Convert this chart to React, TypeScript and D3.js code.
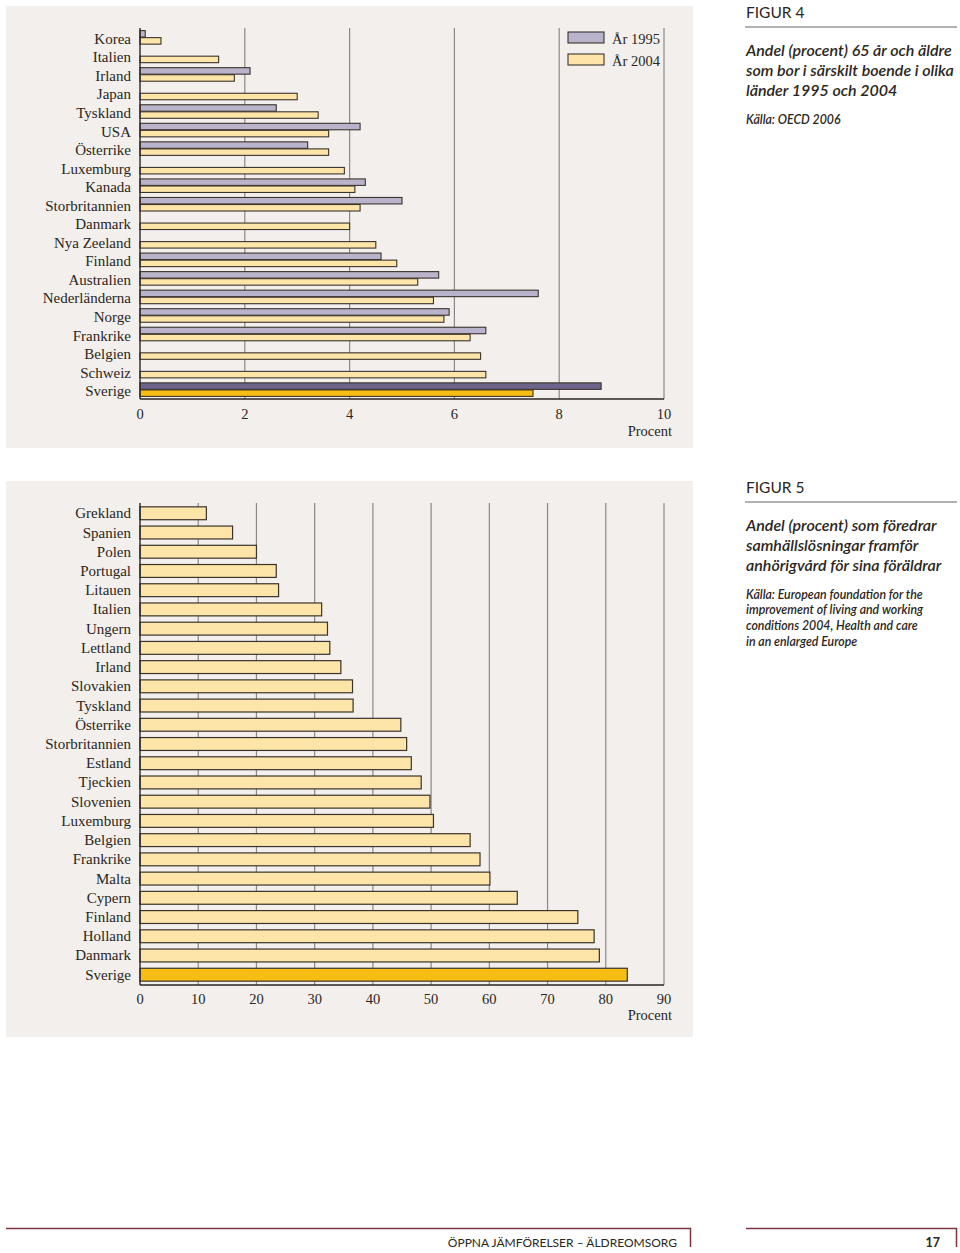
import React from 'react';
import * as d3 from 'd3';

// Figur 4: andel 65+ i särskilt boende
const countries4 = [
  'Korea', 'Italien', 'Irland', 'Japan', 'Tyskland', 'USA', 'Österrike', 'Luxemburg',
  'Kanada', 'Storbritannien', 'Danmark', 'Nya Zeeland', 'Finland', 'Australien',
  'Nederländerna', 'Norge', 'Frankrike', 'Belgien', 'Schweiz', 'Sverige',
];
const values1995 = [0.1, null, 2.1, null, 2.6, 4.2, 3.2, null, 4.3, 5.0, null, null, 4.6, 5.7, 7.6, 5.9, 6.6, null, null, 8.8];
const values2004 = [0.4, 1.5, 1.8, 3.0, 3.4, 3.6, 3.6, 3.9, 4.1, 4.2, 4.0, 4.5, 4.9, 5.3, 5.6, 5.8, 6.3, 6.5, 6.6, 7.5];
const ticks4 = [0, 2, 4, 6, 8, 10];
const series4 = ['År 1995', 'År 2004'];

// Figur 5: föredrar samhällslösningar
const countries5 = [
  'Grekland', 'Spanien', 'Polen', 'Portugal', 'Litauen', 'Italien', 'Ungern', 'Lettland',
  'Irland', 'Slovakien', 'Tyskland', 'Österrike', 'Storbritannien', 'Estland', 'Tjeckien',
  'Slovenien', 'Luxemburg', 'Belgien', 'Frankrike', 'Malta', 'Cypern', 'Finland',
  'Holland', 'Danmark', 'Sverige',
];
const values5 = [11.4, 15.9, 20.0, 23.4, 23.8, 31.2, 32.2, 32.6, 34.5, 36.5, 36.6, 44.8, 45.8, 46.6, 48.3, 49.8, 50.4, 56.7, 58.4, 60.1, 64.8, 75.2, 78.0, 78.9, 83.7];
const ticks5 = [0, 10, 20, 30, 40, 50, 60, 70, 80, 90];

const serif = '"Liberation Serif", "DejaVu Serif", serif';
const sans = 'Lato, "Open Sans", sans-serif';
const panelBg = '#f2efec';
const ink = '#2a2622';
const barStroke = '#3b332c';
const gridCol = '#8c8884';
const col1995 = '#b9b4cb';
const col2004 = '#fde4a8';
const sve1995 = '#6c648a';
const sve2004 = '#f8bd12';

function Figur4() {
  const x = d3.scaleLinear().domain([0, 10]).range([140, 664]);
  const y = d3.scaleBand<string>().domain(countries4).range([28, 399]).paddingInner(0.27).paddingOuter(0.14);
  const sub = d3.scaleBand<string>().domain(series4).range([0, y.bandwidth()]).paddingInner(0.08);
  const rows = countries4.map((c, i) => ({ c, v: [values1995[i], values2004[i]] }));
  return (
    <g>
      <rect x={6} y={6} width={687} height={442} fill={panelBg} />
      {ticks4.slice(1).map(t => (
        <line key={t} x1={x(t)} x2={x(t)} y1={28} y2={399} stroke={gridCol} strokeWidth={1.2} />
      ))}
      {rows.map(r => (
        <g key={r.c}>
          <text x={131} y={(y(r.c) ?? 0) + y.bandwidth() / 2 + 1.5} textAnchor="end" dominantBaseline="central"
            fontFamily={serif} fontSize={15} fill={ink}>{r.c}</text>
          {series4.map((s, j) => {
            const v = r.v[j];
            if (v == null) return null;
            const sv = r.c === 'Sverige';
            const fill = j === 0 ? (sv ? sve1995 : col1995) : (sv ? sve2004 : col2004);
            return (
              <rect key={s} x={x(0)} y={(y(r.c) ?? 0) + (sub(s) ?? 0)} width={x(v) - x(0)} height={sub.bandwidth()}
                fill={fill} stroke={barStroke} strokeWidth={1.1} />
            );
          })}
        </g>
      ))}
      <line x1={140} x2={140} y1={28} y2={399} stroke={ink} strokeWidth={1.4} />
      <line x1={140} x2={664} y1={399} y2={399} stroke={ink} strokeWidth={1.4} />
      {ticks4.map(t => (
        <text key={t} x={x(t)} y={414} textAnchor="middle" dominantBaseline="central"
          fontFamily={serif} fontSize={14.5} fill={ink}>{t}</text>
      ))}
      <text x={672} y={431} textAnchor="end" dominantBaseline="central" fontFamily={serif} fontSize={14.5} fill={ink}>Procent</text>
      {series4.map((s, j) => (
        <g key={s}>
          <rect x={568} y={32 + j * 22} width={36} height={11} fill={j === 0 ? col1995 : col2004} stroke={barStroke} strokeWidth={1.1} />
          <text x={612} y={39 + j * 22} dominantBaseline="central" fontFamily={serif} fontSize={14.5} fill={ink}>{s}</text>
        </g>
      ))}
    </g>
  );
}

function Figur5() {
  const x = d3.scaleLinear().domain([0, 90]).range([140, 664]);
  const y = d3.scaleBand<string>().domain(countries5).range([503, 985]).paddingInner(0.33).paddingOuter(0.2);
  return (
    <g>
      <rect x={6} y={481} width={687} height={556} fill={panelBg} />
      {ticks5.slice(1).map(t => (
        <line key={t} x1={x(t)} x2={x(t)} y1={503} y2={985} stroke={gridCol} strokeWidth={1.2} />
      ))}
      {countries5.map((c, i) => (
        <g key={c}>
          <text x={131} y={(y(c) ?? 0) + y.bandwidth() / 2} textAnchor="end" dominantBaseline="central"
            fontFamily={serif} fontSize={15} fill={ink}>{c}</text>
          <rect x={x(0)} y={y(c)} width={x(values5[i]) - x(0)} height={y.bandwidth()}
            fill={c === 'Sverige' ? sve2004 : col2004} stroke={barStroke} strokeWidth={1.2} />
        </g>
      ))}
      <line x1={140} x2={140} y1={503} y2={985} stroke={ink} strokeWidth={1.4} />
      <line x1={140} x2={664} y1={985} y2={985} stroke={ink} strokeWidth={1.4} />
      {ticks5.map(t => (
        <text key={t} x={x(t)} y={999} textAnchor="middle" dominantBaseline="central"
          fontFamily={serif} fontSize={14.5} fill={ink}>{t}</text>
      ))}
      <text x={672} y={1015} textAnchor="end" dominantBaseline="central" fontFamily={serif} fontSize={14.5} fill={ink}>Procent</text>
    </g>
  );
}

function Caption({ y0, fig, title, source }: { y0: number; fig: string; title: string[]; source: string[] }) {
  return (
    <g>
      <text x={746} y={y0 + 12} dominantBaseline="central" fontFamily={sans} fontSize={15.5} fill={ink}>{fig}</text>
      <line x1={745} x2={957} y1={y0 + 27} y2={y0 + 27} stroke="#9a9794" strokeWidth={1.5} />
      {title.map((t, i) => (
        <text key={i} x={746} y={y0 + 49 + i * 20} dominantBaseline="central" fontFamily={sans} fontStyle="italic"
          fontWeight={600} fontSize={16} fill={ink}>{t}</text>
      ))}
      {source.map((t, i) => (
        <text key={i} x={746} y={y0 + 49 + title.length * 20 + 10 + i * 15.7} dominantBaseline="central" fontFamily={sans}
          fontStyle="italic" fontWeight={600} fontSize={12.3} fill={ink}>{t}</text>
      ))}
    </g>
  );
}

export default function App() {
  const footer = '#7d3440';
  return (
    <svg width={960} height={1253} style={{ position: 'absolute', left: 0, top: 0, background: '#fff' }}>
      <Figur4 />
      <Figur5 />
      <Caption y0={0} fig="FIGUR 4"
        title={['Andel (procent) 65 år och äldre', 'som bor i särskilt boende i olika', 'länder 1995 och 2004']}
        source={['Källa: OECD 2006']} />
      <Caption y0={475} fig="FIGUR 5"
        title={['Andel (procent) som föredrar', 'samhällslösningar framför', 'anhörigvård för sina föräldrar']}
        source={['Källa: European foundation for the', 'improvement of living and working', 'conditions 2004, Health and care', 'in an enlarged Europe']} />
      <path d="M6,1228.5 H690.5 V1247" fill="none" stroke={footer} strokeWidth={1.5} />
      <path d="M746,1228.5 H956.5 V1247" fill="none" stroke={footer} strokeWidth={1.5} />
      <text x={677} y={1242} textAnchor="end" dominantBaseline="central" fontFamily={sans} fontSize={12} fill={ink}>ÖPPNA JÄMFÖRELSER – ÄLDREOMSORG</text>
      <text x={940} y={1242} textAnchor="end" dominantBaseline="central" fontFamily={sans} fontSize={12.5} fontWeight="bold" fill={ink}>17</text>
    </svg>
  );
}
